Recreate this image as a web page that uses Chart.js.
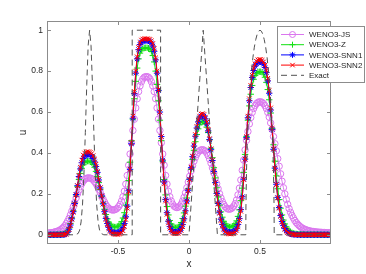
<!DOCTYPE html>
<html lang="en">
<head>
  <meta charset="UTF-8">
  <title>WENO3 schemes, linear advection</title>
  <script src="https://cdn.jsdelivr.net/npm/chart.js"></script>
  <style>
    body { margin: 0; background: #ffffff; }
    canvas { display: block; }
  </style>
</head>
<body>
  <canvas id="wenoChart" width="366" height="274"></canvas>

  <script>
    // grid: 200 cell centres on [-1, 1]
    const xStart = -0.995, xStep = 0.01;

    const wenoJS = [
      0.008, 0.009, 0.010, 0.011, 0.012, 0.014, 0.016, 0.018, 0.021, 0.025,
      0.030, 0.036, 0.044, 0.054, 0.066, 0.080, 0.097, 0.116, 0.137, 0.158,
      0.180, 0.200, 0.218, 0.235, 0.250, 0.262, 0.270, 0.275, 0.278, 0.278,
      0.277, 0.274, 0.268, 0.260, 0.250, 0.237, 0.222, 0.206, 0.190, 0.174,
      0.160, 0.147, 0.137, 0.130, 0.125, 0.122, 0.121, 0.122, 0.125, 0.130,
      0.138, 0.149, 0.165, 0.186, 0.213, 0.248, 0.290, 0.340, 0.395, 0.450,
      0.510, 0.565, 0.620, 0.665, 0.700, 0.728, 0.748, 0.762, 0.770, 0.773,
      0.773, 0.770, 0.762, 0.748, 0.728, 0.700, 0.665, 0.620, 0.565, 0.510,
      0.450, 0.395, 0.340, 0.290, 0.248, 0.213, 0.186, 0.165, 0.150, 0.140,
      0.135, 0.133, 0.135, 0.140, 0.150, 0.165, 0.183, 0.205, 0.230, 0.258,
      0.286, 0.313, 0.338, 0.360, 0.378, 0.393, 0.404, 0.411, 0.415, 0.416,
      0.414, 0.409, 0.400, 0.387, 0.370, 0.350, 0.327, 0.302, 0.276, 0.250,
      0.225, 0.201, 0.180, 0.162, 0.148, 0.137, 0.130, 0.126, 0.125, 0.127,
      0.132, 0.140, 0.152, 0.170, 0.195, 0.228, 0.268, 0.315, 0.365, 0.415,
      0.462, 0.505, 0.542, 0.573, 0.598, 0.617, 0.631, 0.641, 0.647, 0.650,
      0.650, 0.647, 0.641, 0.631, 0.617, 0.598, 0.575, 0.547, 0.515, 0.480,
      0.445, 0.410, 0.372, 0.335, 0.298, 0.262, 0.230, 0.200, 0.173, 0.149,
      0.128, 0.110, 0.095, 0.082, 0.070, 0.060, 0.052, 0.045, 0.039, 0.034,
      0.030, 0.027, 0.024, 0.022, 0.020, 0.018, 0.017, 0.016, 0.015, 0.014,
      0.013, 0.013, 0.012, 0.012, 0.011, 0.011, 0.010, 0.010, 0.010, 0.009
    ];

    const wenoZ = [
      0.000, 0.000, 0.000, 0.000, 0.000, 0.000, 0.001, 0.001, 0.001, 0.002,
      0.002, 0.003, 0.005, 0.009, 0.018, 0.033, 0.055, 0.083, 0.117, 0.155,
      0.195, 0.235, 0.270, 0.300, 0.325, 0.342, 0.353, 0.358, 0.360, 0.360,
      0.358, 0.353, 0.344, 0.330, 0.310, 0.285, 0.255, 0.222, 0.188, 0.155,
      0.125, 0.099, 0.078, 0.062, 0.051, 0.044, 0.040, 0.038, 0.038, 0.040,
      0.044, 0.052, 0.064, 0.082, 0.108, 0.145, 0.195, 0.265, 0.355, 0.460,
      0.565, 0.665, 0.750, 0.815, 0.860, 0.888, 0.903, 0.910, 0.913, 0.914,
      0.914, 0.912, 0.907, 0.896, 0.876, 0.845, 0.800, 0.735, 0.655, 0.560,
      0.460, 0.360, 0.270, 0.195, 0.138, 0.097, 0.070, 0.053, 0.042, 0.036,
      0.034, 0.035, 0.039, 0.047, 0.060, 0.080, 0.107, 0.140, 0.180, 0.225,
      0.272, 0.320, 0.368, 0.413, 0.455, 0.490, 0.518, 0.538, 0.550, 0.555,
      0.553, 0.544, 0.526, 0.500, 0.465, 0.423, 0.377, 0.328, 0.278, 0.230,
      0.185, 0.145, 0.112, 0.086, 0.066, 0.053, 0.045, 0.040, 0.038, 0.038,
      0.040, 0.045, 0.054, 0.068, 0.090, 0.122, 0.167, 0.228, 0.305, 0.393,
      0.480, 0.560, 0.630, 0.687, 0.730, 0.760, 0.778, 0.789, 0.795, 0.797,
      0.797, 0.794, 0.786, 0.770, 0.745, 0.710, 0.660, 0.595, 0.520, 0.440,
      0.360, 0.288, 0.225, 0.172, 0.130, 0.097, 0.072, 0.053, 0.039, 0.028,
      0.020, 0.014, 0.010, 0.007, 0.005, 0.004, 0.003, 0.003, 0.002, 0.002,
      0.002, 0.001, 0.001, 0.001, 0.001, 0.001, 0.001, 0.001, 0.001, 0.001,
      0.001, 0.001, 0.000, 0.000, 0.000, 0.000, 0.000, 0.000, 0.000, 0.000
    ];

    const wenoSNN1 = [
      0.000, 0.000, 0.000, 0.000, 0.000, 0.000, 0.000, 0.000, 0.000, 0.000,
      0.000, 0.001, 0.001, 0.004, 0.012, 0.027, 0.048, 0.078, 0.113, 0.153,
      0.197, 0.240, 0.285, 0.322, 0.352, 0.373, 0.385, 0.391, 0.393, 0.393,
      0.390, 0.384, 0.373, 0.356, 0.334, 0.305, 0.268, 0.229, 0.190, 0.151,
      0.113, 0.080, 0.055, 0.036, 0.023, 0.015, 0.011, 0.009, 0.009, 0.010,
      0.012, 0.016, 0.023, 0.035, 0.055, 0.088, 0.140, 0.215, 0.320, 0.445,
      0.570, 0.690, 0.790, 0.860, 0.905, 0.930, 0.942, 0.947, 0.949, 0.950,
      0.950, 0.948, 0.945, 0.937, 0.922, 0.897, 0.855, 0.790, 0.705, 0.600,
      0.480, 0.365, 0.258, 0.172, 0.108, 0.066, 0.040, 0.025, 0.017, 0.013,
      0.012, 0.013, 0.016, 0.022, 0.032, 0.050, 0.078, 0.117, 0.165, 0.218,
      0.272, 0.328, 0.382, 0.434, 0.482, 0.522, 0.552, 0.571, 0.581, 0.584,
      0.580, 0.567, 0.542, 0.508, 0.465, 0.416, 0.363, 0.309, 0.255, 0.202,
      0.153, 0.110, 0.076, 0.050, 0.033, 0.022, 0.016, 0.013, 0.012, 0.012,
      0.013, 0.016, 0.022, 0.032, 0.050, 0.079, 0.123, 0.186, 0.272, 0.370,
      0.475, 0.572, 0.655, 0.720, 0.769, 0.803, 0.824, 0.836, 0.843, 0.846,
      0.846, 0.842, 0.834, 0.818, 0.793, 0.752, 0.692, 0.610, 0.515, 0.418,
      0.326, 0.247, 0.183, 0.133, 0.094, 0.065, 0.045, 0.030, 0.020, 0.013,
      0.008, 0.005, 0.003, 0.002, 0.001, 0.001, 0.000, 0.000, 0.000, 0.000,
      0.000, 0.000, 0.000, 0.000, 0.000, 0.000, 0.000, 0.000, 0.000, 0.000,
      0.000, 0.000, 0.000, 0.000, 0.000, 0.000, 0.000, 0.000, 0.000, 0.000
    ];

    const wenoSNN2 = [
      0.000, 0.000, 0.000, 0.000, 0.000, 0.000, 0.000, 0.000, 0.000, 0.000,
      0.000, 0.000, 0.001, 0.003, 0.010, 0.025, 0.045, 0.075, 0.110, 0.150,
      0.195, 0.240, 0.290, 0.330, 0.365, 0.390, 0.400, 0.405, 0.406, 0.406,
      0.403, 0.397, 0.387, 0.370, 0.345, 0.310, 0.270, 0.230, 0.190, 0.150,
      0.110, 0.075, 0.050, 0.030, 0.017, 0.009, 0.005, 0.003, 0.002, 0.002,
      0.003, 0.005, 0.010, 0.020, 0.040, 0.075, 0.130, 0.210, 0.320, 0.450,
      0.580, 0.700, 0.800, 0.870, 0.915, 0.940, 0.952, 0.957, 0.958, 0.958,
      0.958, 0.957, 0.955, 0.948, 0.935, 0.910, 0.865, 0.800, 0.710, 0.600,
      0.480, 0.360, 0.250, 0.165, 0.100, 0.058, 0.032, 0.017, 0.009, 0.006,
      0.005, 0.006, 0.008, 0.013, 0.022, 0.040, 0.070, 0.110, 0.160, 0.215,
      0.270, 0.330, 0.385, 0.440, 0.490, 0.530, 0.560, 0.580, 0.590, 0.592,
      0.588, 0.575, 0.550, 0.515, 0.470, 0.420, 0.365, 0.310, 0.255, 0.200,
      0.150, 0.105, 0.070, 0.043, 0.025, 0.014, 0.008, 0.005, 0.004, 0.004,
      0.005, 0.007, 0.012, 0.022, 0.040, 0.070, 0.115, 0.180, 0.270, 0.370,
      0.480, 0.580, 0.665, 0.730, 0.780, 0.815, 0.835, 0.848, 0.855, 0.857,
      0.857, 0.853, 0.845, 0.830, 0.805, 0.765, 0.705, 0.620, 0.520, 0.420,
      0.325, 0.245, 0.180, 0.130, 0.090, 0.062, 0.042, 0.028, 0.018, 0.011,
      0.007, 0.004, 0.002, 0.001, 0.000, 0.000, 0.000, 0.000, 0.000, 0.000,
      0.000, 0.000, 0.000, 0.000, 0.000, 0.000, 0.000, 0.000, 0.000, 0.000,
      0.000, 0.000, 0.000, 0.000, 0.000, 0.000, 0.000, 0.000, 0.000, 0.000
    ];

    // exact profile: gaussian, square, triangle, half ellipse
    const exactX = [
      -1, -0.8, -0.78, -0.77, -0.76, -0.75, -0.74, -0.73, -0.72, -0.71, -0.7,
      -0.69, -0.68, -0.67, -0.66, -0.65, -0.64, -0.63, -0.62, -0.6,
      -0.4, -0.4, -0.2, -0.2, 0, 0.1, 0.2, 0.4, 0.401, 0.405, 0.41,
      0.42, 0.43, 0.44, 0.45, 0.46, 0.47, 0.48, 0.49, 0.5,
      0.51, 0.52, 0.53, 0.54, 0.55, 0.56, 0.57, 0.58, 0.59, 0.595, 0.599, 0.6, 1
    ];
    const exactY = [
      0, 0, 0.007, 0.023, 0.063, 0.146, 0.292, 0.5, 0.735, 0.926, 1,
      0.926, 0.735, 0.5, 0.292, 0.146, 0.063, 0.023, 0.007, 0,
      0, 1, 1, 0, 0, 1, 0, 0, 0.141, 0.312, 0.436,
      0.6, 0.714, 0.8, 0.866, 0.917, 0.954, 0.98, 0.995, 1,
      0.995, 0.98, 0.954, 0.917, 0.866, 0.8, 0.714, 0.6, 0.436, 0.312, 0.141, 0, 0
    ];

    const xTickVals = [-0.5, 0, 0.5];
    const yTickVals = [0, 0.2, 0.4, 0.6, 0.8, 1];

    const xGrid = wenoJS.map((_, i) => +(xStart + i * xStep).toFixed(3));
    const toPts = (xs, ys) => ys.map((y, i) => ({ x: xs[i], y: y }));

    const colJS = 'rgb(218,118,238)';
    const colZ = '#12e012';
    const colSNN1 = '#0000ff';
    const colSNN2 = '#ff0000';
    const colExact = '#505050';
    const axisCol = '#8c8c8c';
    const textCol = '#262626';

    Chart.defaults.font.family = '"Liberation Sans", Arial, sans-serif';
    Chart.defaults.color = textCol;

    function numSet(label, ys, color, style, order) {
      return {
        label: label,
        data: toPts(xGrid, ys),
        borderColor: color,
        borderWidth: 1,
        pointStyle: style,
        pointRadius: 3.2,
        pointBorderWidth: 1,
        pointBorderColor: color,
        pointBackgroundColor: 'rgba(0,0,0,0)',
        tension: 0,
        order: order
      };
    }

    // legend rows: label, colour, marker
    const legendRows = [
      ['WENO3-JS', colJS, 'circle'],
      ['WENO3-Z', colZ, 'cross'],
      ['WENO3-SNN1', colSNN1, 'star'],
      ['WENO3-SNN2', colSNN2, 'crossRot'],
      ['Exact', colExact, 'dash']
    ];

    function marker(ctx, style, x, y, r) {
      ctx.beginPath();
      if (style === 'circle') ctx.arc(x, y, r, 0, Math.PI * 2);
      if (style === 'cross' || style === 'star') {
        ctx.moveTo(x - r, y); ctx.lineTo(x + r, y);
        ctx.moveTo(x, y - r); ctx.lineTo(x, y + r);
      }
      if (style === 'crossRot' || style === 'star') {
        const d = r * 0.75;
        ctx.moveTo(x - d, y - d); ctx.lineTo(x + d, y + d);
        ctx.moveTo(x - d, y + d); ctx.lineTo(x + d, y - d);
      }
      ctx.stroke();
    }

    const framePlugin = {
      id: 'frame',
      afterDraw(chart) {
        const { ctx, chartArea: a, scales } = chart;
        ctx.save();
        ctx.strokeStyle = axisCol;
        ctx.lineWidth = 1;
        ctx.strokeRect(a.left + 0.5, a.top + 0.5, a.right - a.left - 1, a.bottom - a.top - 1);

        // inward ticks on all four sides
        ctx.beginPath();
        xTickVals.forEach(v => {
          const px = Math.round(scales.x.getPixelForValue(v)) + 0.5;
          ctx.moveTo(px, a.bottom - 1); ctx.lineTo(px, a.bottom - 4);
          ctx.moveTo(px, a.top + 1); ctx.lineTo(px, a.top + 4);
        });
        yTickVals.forEach(v => {
          const py = Math.round(scales.y.getPixelForValue(v)) + 0.5;
          ctx.moveTo(a.left + 1, py); ctx.lineTo(a.left + 4, py);
          ctx.moveTo(a.right - 1, py); ctx.lineTo(a.right - 4, py);
        });
        ctx.stroke();

        // legend box
        const bx = 277.5, by = 26.5, bw = 87, bh = 56;
        ctx.fillStyle = '#ffffff';
        ctx.fillRect(bx, by, bw, bh);
        ctx.strokeStyle = axisCol;
        ctx.strokeRect(bx, by, bw, bh);

        ctx.font = '8px "Liberation Sans", Arial, sans-serif';
        ctx.textBaseline = 'middle';
        ctx.textAlign = 'left';
        legendRows.forEach((row, i) => {
          const y = 34.5 + i * 10.2;
          ctx.strokeStyle = row[1];
          ctx.lineWidth = 1;
          ctx.setLineDash(row[2] === 'dash' ? [6, 4] : []);
          ctx.beginPath();
          ctx.moveTo(281, y); ctx.lineTo(304, y);
          ctx.stroke();
          ctx.setLineDash([]);
          if (row[2] !== 'dash') marker(ctx, row[2], 292.5, y, 3);
          ctx.fillStyle = textCol;
          ctx.fillText(row[0], 309, y + 0.5);
        });
        ctx.restore();
      }
    };

    const ctx = document.getElementById('wenoChart').getContext('2d');
    const chart = new Chart(ctx, {
      type: 'line',
      data: {
        datasets: [
          numSet('WENO3-JS', wenoJS, colJS, 'circle', 5),
          numSet('WENO3-Z', wenoZ, colZ, 'cross', 4),
          numSet('WENO3-SNN1', wenoSNN1, colSNN1, 'star', 3),
          numSet('WENO3-SNN2', wenoSNN2, colSNN2, 'crossRot', 2),
          {
            label: 'Exact',
            data: toPts(exactX, exactY),
            borderColor: colExact,
            borderWidth: 1,
            borderDash: [6, 4],
            pointRadius: 0,
            tension: 0,
            order: 1
          }
        ]
      },
      options: {
        responsive: false,
        animation: false,
        layout: { padding: { top: 21, right: 35, left: 0, bottom: 0 } },
        plugins: { legend: { display: false }, tooltip: { enabled: false } },
        scales: {
          x: {
            type: 'linear',
            min: -1,
            max: 1,
            grid: { display: false, drawTicks: false },
            border: { display: false },
            afterBuildTicks: s => { s.ticks = xTickVals.map(v => ({ value: v })); },
            afterFit: s => { s.height = 30; },
            ticks: {
              padding: 3,
              font: { size: 8.5 },
              color: textCol,
              maxRotation: 0,
              autoSkip: false,
              callback: v => String(v)
            },
            title: { display: true, text: 'x', font: { size: 10 }, color: textCol, padding: { top: 0, bottom: 4 } }
          },
          y: {
            type: 'linear',
            min: -0.045,
            max: 1.045,
            grid: { display: false, drawTicks: false },
            border: { display: false },
            afterBuildTicks: s => { s.ticks = yTickVals.map(v => ({ value: v })); },
            afterFit: s => { s.width = 47; },
            ticks: {
              padding: 4,
              font: { size: 8.5 },
              color: textCol,
              callback: v => String(v)
            },
            title: { display: true, text: 'u', font: { size: 10 }, color: textCol, padding: { top: 17, bottom: 0 } }
          }
        }
      },
      plugins: [framePlugin]
    });
  </script>
</body>
</html>
